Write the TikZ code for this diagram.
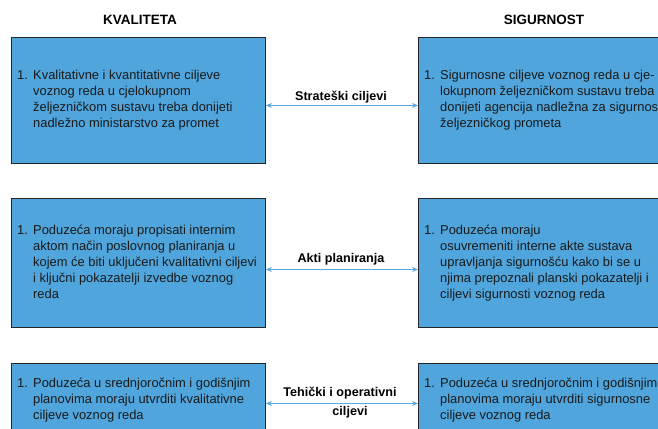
\documentclass[tikz,border=0pt]{standalone}
\usepackage{fontspec}
\setmainfont{Liberation Sans}
\usetikzlibrary{arrows.meta}
\definecolor{boxblue}{HTML}{4FA5DC}
\definecolor{arrblue}{HTML}{5AA9DE}
\definecolor{txt}{HTML}{1A1A1A}
\newcommand{\numlist}[1]{\begin{tabular}[c]{@{}l@{}l@{}}\makebox[16pt][l]{1.}&\begin{tabular}[t]{@{}l@{}}#1\end{tabular}\end{tabular}}
\tikzset{
  box/.style={draw=black!85, line width=0.9pt, fill=boxblue, inner sep=0pt, anchor=north west, minimum width=254pt},
  boxtext/.style={anchor=west, inner sep=0pt, text=txt, font=\fontsize{12.9}{16}\selectfont},
  head/.style={font=\bfseries\fontsize{13.5}{16}\selectfont, text=black},
  lab/.style={font=\bfseries\fontsize{12.6}{16}\selectfont, text=black, inner sep=0pt},
  arr/.style={draw=arrblue, line width=1pt, {Stealth[length=6pt,width=5pt]}-{Stealth[length=6pt,width=5pt]}}
}
\begin{document}
\begin{tikzpicture}[x=1pt,y=-1pt]
\useasboundingbox (0,0) rectangle (658,428);
\clip (0,0) rectangle (658,428);
\node[head] (hk) at (140,20) {KVALITETA};
\node[head] (hs) at (544,20) {SIGURNOST};
% row 1
\node[box, minimum height=126pt] (l1) at (11,37) {};
\node[box, minimum height=126pt] (r1) at (418,37) {};
\node[boxtext] (tl1) at ([xshift=6pt]l1.west) {\numlist{Kvalitativne i kvantitativne ciljeve\\voznog reda u cjelokupnom\\željezničkom sustavu treba donijeti\\nadležno ministarstvo za promet}};
\node[boxtext] (tr1) at ([xshift=6pt]r1.west) {\numlist{Sigurnosne ciljeve voznog reda u cje-\\lokupnom željezničkom sustavu treba\\donijeti agencija nadležna za sigurnost\\željezničkog prometa}};
\draw[arr] ([yshift=-5pt]l1.east) -- ([yshift=-5pt]r1.west);
\node[lab] (s1) at (341,97) {Strateški ciljevi};
% row 2
\node[box, minimum height=129pt] (l2) at (11,198) {};
\node[box, minimum height=129pt] (r2) at (418,198) {};
\node[boxtext] (tl2) at ([xshift=6pt]l2.west) {\numlist{Poduzeća moraju propisati internim\\aktom način poslovnog planiranja u\\kojem će biti uključeni kvalitativni ciljevi\\i ključni pokazatelji izvedbe voznog\\reda}};
\node[boxtext] (tr2) at ([xshift=6pt]r2.west) {\numlist{Poduzeća moraju\\osuvremeniti interne akte sustava\\upravljanja sigurnošću kako bi se u\\njima prepoznali planski pokazatelji i\\ciljevi sigurnosti voznog reda}};
\draw[arr] ([yshift=-6.5pt]l2.east) -- ([yshift=-6.5pt]r2.west);
\node[lab] (s2) at (341,259) {Akti planiranja};
% row 3
\node[box, minimum height=73pt] (l3) at (11,363) {};
\node[box, minimum height=73pt] (r3) at (418,363) {};
\node[boxtext] (tl3) at ([xshift=6pt]l3.west) {\numlist{Poduzeća u srednjoročnim i godišnjim\\planovima moraju utvrditi kvalitativne\\ciljeve voznog reda}};
\node[boxtext] (tr3) at ([xshift=6pt]r3.west) {\numlist{Poduzeća u srednjoročnim i godišnjim\\planovima moraju utvrditi sigurnosne\\ciljeve voznog reda}};
\draw[arr] ([yshift=-3.5pt]l3.east) -- ([yshift=-3.5pt]r3.west);
\node[lab, align=center, font=\bfseries\fontsize{12.6}{19}\selectfont] (s3) at (340,402.5) {Tehički i operativni\\\hspace*{20pt}ciljevi};
\end{tikzpicture}
\end{document}
